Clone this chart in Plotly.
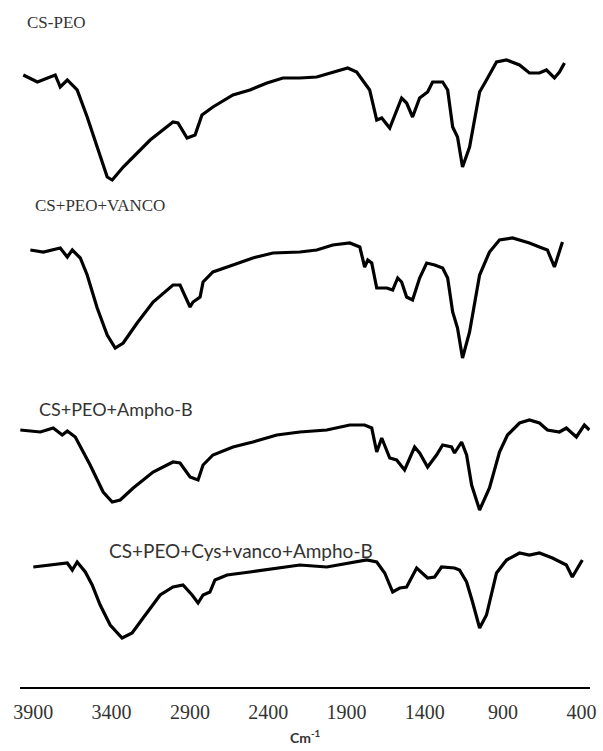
import plotly.graph_objects as go

# FTIR transmittance spectra (arbitrary units), wavenumber in cm-1
wn_cs_peo = [3964, 3874, 3760, 3728, 3683, 3620, 3556, 3492, 3428, 3396, 3326, 3154, 3008, 2976,
             2918, 2867, 2823, 2753, 2625, 2517, 2408, 2306, 2198, 2090, 1988, 1892, 1835, 1784,
             1752, 1707, 1675, 1624, 1548, 1516, 1478, 1433, 1382, 1350, 1286, 1254, 1222, 1191,
             1159, 1114, 1050, 1006, 942, 878, 795, 732, 668, 623, 572, 540, 508]
t_cs_peo = [112, 105, 112, 100, 107, 97, 70, 40, 10, 7, 20, 47, 65, 64,
            49, 52, 72, 80, 92, 97, 104, 109, 109, 110, 115, 119, 115, 104,
            97, 67, 69, 59, 89, 84, 70, 89, 95, 105, 105, 97, 60, 50,
            20, 40, 95, 107, 125, 127, 122, 114, 114, 117, 109, 115, 124]

wn_vanco = [3919, 3836, 3728, 3683, 3651, 3600, 3556, 3492, 3428, 3377, 3326, 3237, 3135, 3008,
            2963, 2899, 2880, 2835, 2816, 2753, 2625, 2498, 2370, 2198, 2090, 1988, 1879, 1815,
            1784, 1764, 1739, 1707, 1643, 1605, 1573, 1548, 1516, 1478, 1433, 1388, 1337, 1286,
            1254, 1222, 1191, 1159, 1114, 1050, 987, 923, 840, 732, 668, 617, 572, 540, 521]
t_vanco = [117, 115, 119, 110, 117, 109, 92, 59, 32, 19, 24, 44, 65, 82,
           82, 60, 65, 70, 85, 95, 102, 109, 114, 115, 117, 122, 124, 120,
           100, 107, 104, 79, 79, 77, 89, 85, 70, 67, 89, 104, 102, 99,
           89, 55, 39, 9, 35, 92, 115, 127, 129, 124, 120, 117, 100, 115, 125]

wn_ampho = [3983, 3855, 3773, 3715, 3683, 3632, 3537, 3454, 3396, 3345, 3262, 3135, 3008, 2963,
            2899, 2848, 2816, 2753, 2625, 2498, 2345, 2198, 2026, 1879, 1784, 1739, 1707, 1675,
            1624, 1580, 1529, 1465, 1433, 1382, 1325, 1286, 1229, 1210, 1165, 1133, 1101, 1050,
            987, 923, 872, 795, 732, 668, 617, 540, 496, 432, 381, 349]
t_ampho = [107, 105, 109, 102, 106, 100, 72, 45, 35, 37, 49, 65, 75, 74,
           60, 57, 72, 82, 90, 95, 102, 105, 107, 112, 112, 109, 85, 99,
           79, 77, 67, 90, 84, 70, 82, 92, 90, 84, 95, 82, 52, 27,
           49, 85, 102, 114, 117, 114, 107, 105, 109, 100, 112, 107]

wn_combo = [3900, 3792, 3683, 3651, 3620, 3568, 3524, 3473, 3409, 3333, 3269, 3199, 3090, 3008,
            2944, 2886, 2848, 2816, 2772, 2740, 2663, 2517, 2345, 2198, 2026, 1879, 1771, 1707,
            1656, 1605, 1560, 1516, 1452, 1382, 1337, 1293, 1210, 1178, 1133, 1095, 1050, 1006,
            942, 878, 795, 732, 668, 585, 496, 458, 394]
t_combo = [120, 122, 124, 117, 125, 115, 102, 82, 62, 49, 54, 69, 92, 100,
           102, 92, 84, 92, 95, 107, 112, 115, 119, 122, 120, 124, 127, 125,
           114, 95, 99, 100, 119, 109, 110, 120, 119, 117, 105, 85, 59, 72,
           114, 127, 134, 132, 134, 129, 122, 110, 127]

labels = ["CS-PEO", "CS+PEO+VANCO", "CS+PEO+Ampho-B", "CS+PEO+Cys+vanco+Ampho-B"]
offsets = [500, 320, 150, 0]
tick_vals = [3900, 3400, 2900, 2400, 1900, 1400, 900, 400]

series = [(wn_cs_peo, t_cs_peo), (wn_vanco, t_vanco), (wn_ampho, t_ampho), (wn_combo, t_combo)]

fig = go.Figure()
for (wn, t), off, name in zip(series, offsets, labels):
    fig.add_trace(go.Scatter(
        x=wn, y=[v + off for v in t], mode="lines", name=name,
        line=dict(color="black", width=3.2), showlegend=False,
    ))

# Spectrum captions: (label x in cm-1, y in plot units, font)
serif = dict(family="Liberation Serif", size=17, color="#333333")
sans_small = dict(family="Lato", size=18, color="#333333")
sans_large = dict(family="Lato", size=19, color="#333333")
captions = [
    (3951, 665, serif),
    (3900, 482, serif),
    (3875, 278, sans_small),
    (3428, 137, sans_large),
]
for name, (cx, cy, f) in zip(labels, captions):
    fig.add_annotation(x=cx, y=cy, text=name, showarrow=False, xanchor="left",
                       yanchor="middle", font=f)

# Axis unit label below the tick labels
fig.add_annotation(x=0.5, xref="paper", y=-0.072, yref="paper", yanchor="middle",
                   text="<b>Cm<sup>-1</sup></b>", showarrow=False,
                   font=dict(family="Lato", size=14, color="#333333"))

fig.update_layout(
    width=603, height=751,
    margin=dict(l=20, r=13, t=0, b=64),
    paper_bgcolor="white", plot_bgcolor="white",
    xaxis=dict(
        range=[3985, 345], tickvals=tick_vals, ticktext=[str(v) for v in tick_vals],
        showgrid=False, zeroline=False, showline=True, linecolor="black", linewidth=2,
        ticks="outside", ticklen=6, tickcolor="rgba(0,0,0,0)",
        tickfont=dict(family="Liberation Serif", size=20, color="#333333"),
    ),
    yaxis=dict(range=[0, 687], visible=False),
)

fig.write_html("out.html")
